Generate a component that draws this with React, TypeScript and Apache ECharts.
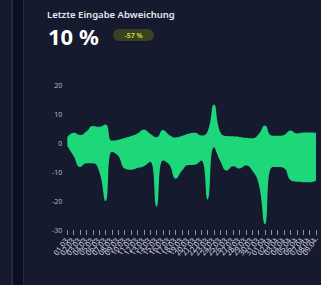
import React, { useEffect, useRef } from "react";
import * as echarts from "echarts";

const categories = [
  "01.03.", "02.03.", "03.03.", "04.03.", "05.03.", "06.03.", "07.03.", "08.03.", "09.03.", "10.03.",
  "11.03.", "12.03.", "13.03.", "14.03.", "15.03.", "16.03.", "17.03.", "18.03.", "19.03.", "20.03.",
  "21.03.", "22.03.", "23.03.", "24.03.", "25.03.", "26.03.", "27.03.", "28.03.", "29.03.", "30.03.",
  "31.03.", "01.04.", "02.04.", "03.04.", "04.04.", "05.04.", "06.04.", "07.04.", "08.04.", "09.04.",
];

const upper = [
  2, 3.5, 2.8, 4, 5.9, 5.6, 6.4, 0.8, 1.1, 1.7,
  2.4, 3.3, 4.6, 3.2, 2.0, 4.5, 2.8, 1.9, 2.5, 3.2,
  3.5, 2.6, 4, 13.3, 3.7, 2.4, 2.3, 2.1, 1.8, 1.6,
  3, 6, 2.6, 2.5, 2.8, 4.3, 3.3, 3.6, 3.6, 3.5,
];

const lower = [
  -1, -4.5, -8.3, -7, -7, -9.8, -20, -3, -4.5, -8.8,
  -9.2, -8.6, -8, -6.5, -22, -6, -7.5, -12.3, -9.5, -7.6,
  -7.5, -6, -19.5, -1.5, -6.3, -9.5, -8, -8.8, -7.8, -9.5,
  -14, -28, -8.5, -8.3, -8.7, -12.8, -13.4, -13.5, -13.5, -13,
];

const yTicks = { min: -30, max: 20, interval: 10 };

const title = "Letzte Eingabe Abweichung";
const kpiValue = "10 %";
const kpiBadge = "-57 %";

const GREEN = "#1fd77b";
const FONT = "'Noto Sans', 'Open Sans', sans-serif";

export default function App() {
  const ref = useRef<HTMLDivElement>(null);

  useEffect(() => {
    if (!ref.current) return;
    const chart = echarts.init(ref.current, undefined, { renderer: "svg" });
    chart.setOption({
      animation: false,
      backgroundColor: "transparent",
      textStyle: { fontFamily: FONT },
      grid: { left: 67.3, right: -10.3, top: 85, bottom: 55, containLabel: false },
      xAxis: {
        type: "category",
        data: categories,
        boundaryGap: false,
        axisLine: { show: true, onZero: false, lineStyle: { color: "rgba(0,0,0,0)" } },
        axisTick: { show: true, interval: 0, length: 5, lineStyle: { color: "#8a90a4", width: 1 } },
        axisLabel: { interval: 0, rotate: 55, fontSize: 7.5, color: "#d4d7e0", margin: 7 },
        splitLine: { show: false },
      },
      yAxis: {
        type: "value",
        min: yTicks.min,
        max: yTicks.max,
        interval: yTicks.interval,
        axisLine: { show: false },
        axisTick: { show: false },
        splitLine: { show: false },
        axisLabel: { fontSize: 7, color: "#b4b8c6", margin: 5 },
      },
      series: [
        {
          type: "line",
          data: upper,
          smooth: 0.5,
          symbol: "none",
          lineStyle: { width: 0 },
          areaStyle: { color: GREEN, opacity: 1 },
        },
        {
          type: "line",
          data: lower,
          smooth: 0.5,
          symbol: "none",
          lineStyle: { width: 0 },
          areaStyle: { color: GREEN, opacity: 1 },
        },
      ],
      graphic: [
        {
          type: "text",
          left: 47,
          top: 9,
          style: { text: title, fill: "#e6e8ef", fontSize: 9.5, fontWeight: 600, fontFamily: FONT },
        },
        {
          type: "text",
          left: 48,
          top: 25,
          style: { text: kpiValue, fill: "#ffffff", fontSize: 22, fontWeight: 700, fontFamily: FONT },
        },
        {
          type: "rect",
          shape: { x: 113, y: 29, width: 41, height: 12, r: 6 },
          style: { fill: "#3a4020" },
        },
        {
          type: "text",
          x: 133.5,
          y: 35,
          style: {
            text: kpiBadge,
            fill: "#cfe63c",
            fontSize: 7,
            fontWeight: 600,
            fontFamily: FONT,
            align: "center",
            verticalAlign: "middle",
          },
        },
      ],
    });
    return () => chart.dispose();
  }, []);

  return (
    <div
      style={{
        position: "fixed",
        left: 0,
        top: 0,
        width: 321,
        height: 285,
        background: "#151a2f",
        overflow: "hidden",
      }}
    >
      <div style={{ position: "absolute", left: 11, top: 0, width: 2, height: 285, background: "#262b42" }} />
      <div style={{ position: "absolute", left: 13, top: 0, width: 10, height: 285, background: "#0b0e1e" }} />
      <div style={{ position: "absolute", left: 23, top: 0, width: 1, height: 285, background: "#262b42" }} />
      <div ref={ref} style={{ position: "absolute", left: 0, top: 0, width: 321, height: 285 }} />
    </div>
  );
}
